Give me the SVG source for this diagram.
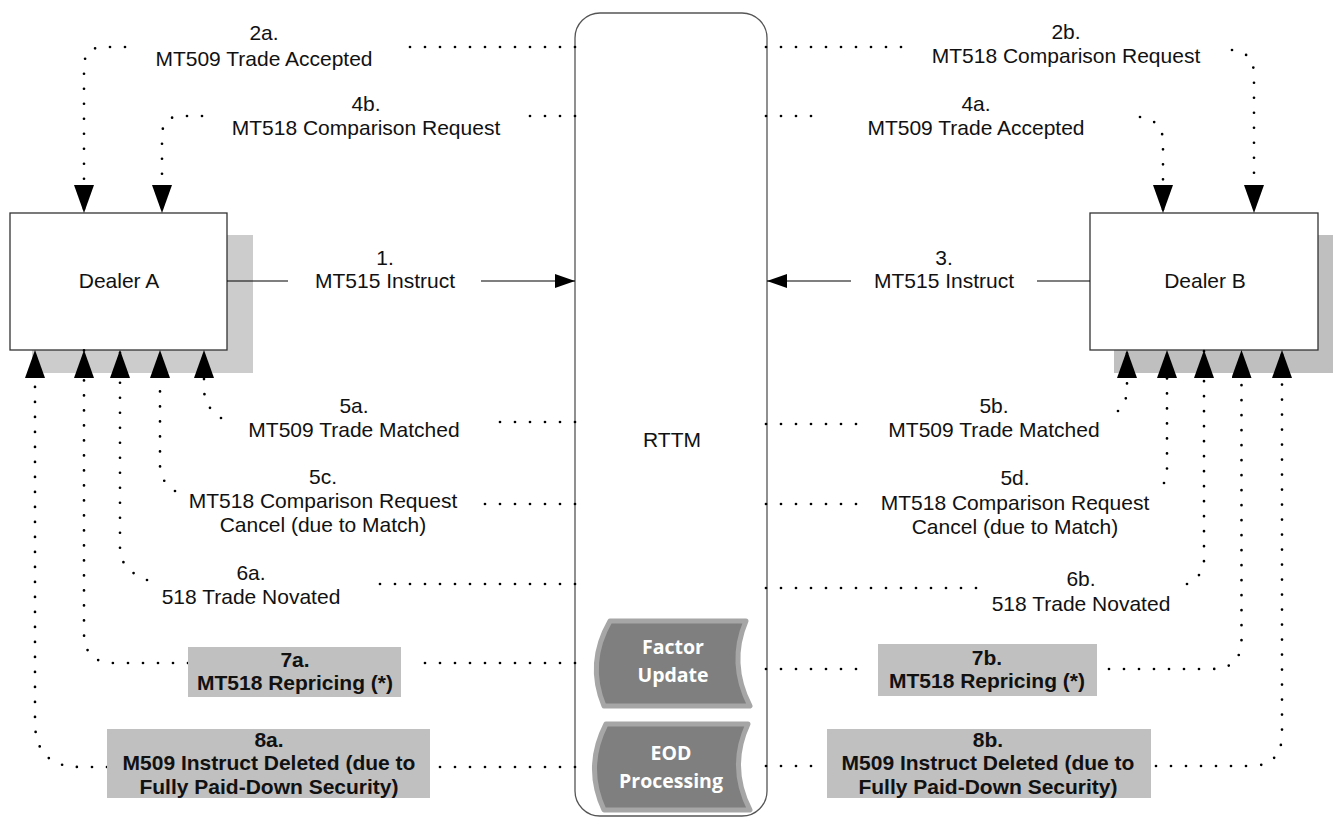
<svg xmlns="http://www.w3.org/2000/svg" width="1333" height="818" viewBox="0 0 1333 818">
<style>
  .lbl { font-family: "Liberation Sans", Arial, sans-serif; font-size: 21px; fill: #111; text-anchor: middle; }
  .bold { font-weight: bold; }
  .proc { font-family: "Open Sans", "Noto Sans", sans-serif; font-size: 19.5px; font-weight: bold; fill: #ffffff; text-anchor: middle; }
  .dot { fill: none; stroke: #000; stroke-width: 2.7; stroke-dasharray: 0 15; stroke-linecap: round; }
  .dotend { fill: none; stroke: #000; stroke-width: 2.7; stroke-dasharray: 0 15; stroke-linecap: round; marker-end: url(#bigArrow); }
  .solid { fill: none; stroke: #000; stroke-width: 1.2; }
  .solidend { fill: none; stroke: #000; stroke-width: 1.2; marker-end: url(#smallArrow); }
  .box { fill: #ffffff; stroke: #333; stroke-width: 1.3; }
  .tag { fill: #c0c0c0; }
  .shape { fill: #7f7f7f; stroke: #a6a6a6; stroke-width: 5; stroke-linejoin: round; }
</style>
<defs>
  <marker id="bigArrow" markerUnits="userSpaceOnUse" viewBox="0 -10 28 20" markerWidth="28" markerHeight="20" refX="28" refY="0" orient="auto">
    <path d="M0,-10 L28,0 L0,10 Z" fill="#000"/>
  </marker>
  <marker id="smallArrow" markerUnits="userSpaceOnUse" viewBox="0 -7 20 14" markerWidth="20" markerHeight="14" refX="20" refY="0" orient="auto">
    <path d="M0,-7 L20,0 L0,7 Z" fill="#000"/>
  </marker>
</defs>
<rect width="1333" height="818" fill="#ffffff"/>

<g id="rttm">
  <rect x="575" y="13" width="192" height="803" rx="25" ry="25" fill="#ffffff" stroke="#555" stroke-width="1.3"/>
  <text class="lbl" x="672" y="447">RTTM</text>
</g>

<g id="factor-update">
  <path class="shape" d="M610,621 L746,621 Q728,663 750,706 L604,706 Q586,663 610,621 Z"/>
  <text class="proc" x="673" y="654">Factor</text>
  <text class="proc" x="673" y="682">Update</text>
</g>

<g id="eod-processing">
  <path class="shape" d="M606,724 L748,724 Q728,767 750,810 L604,810 Q584,767 606,724 Z"/>
  <text class="proc" x="671" y="760">EOD</text>
  <text class="proc" x="671" y="788">Processing</text>
</g>

<g id="dealer-a">
  <rect x="32" y="235" width="221" height="138" fill="#cccccc"/>
  <rect class="box" x="10" y="213" width="217" height="137"/>
  <text class="lbl" x="119" y="288">Dealer A</text>
</g>

<g id="dealer-b">
  <rect x="1114" y="235" width="230" height="138" fill="#bfbfbf"/>
  <rect class="box" x="1090" y="213" width="228" height="137"/>
  <text class="lbl" x="1205" y="288">Dealer B</text>
</g>

<g id="connectors">
  <!-- 2a -->
  <path class="dot" d="M575,47 H403"/>
  <path class="dotend" d="M125,47 H104 Q84,47 84,67 V213"/>
  <!-- 4b -->
  <path class="dot" d="M575,116 H527"/>
  <path class="dotend" d="M202,116 H182 Q162,116 162,136 V213"/>
  <!-- 2b -->
  <path class="dot" d="M766,47 H910"/>
  <path class="dotend" d="M1232,50 Q1254,52 1254,75 V213"/>
  <!-- 4a -->
  <path class="dot" d="M766,116 H818"/>
  <path class="dotend" d="M1140,117 Q1163,120 1163,142 V213"/>
  <!-- 1 -->
  <path class="solid" d="M227,281 H288"/>
  <path class="solidend" d="M481,281 H575"/>
  <!-- 3 -->
  <path class="solid" d="M1090,281 H1037"/>
  <path class="solidend" d="M851,281 H767"/>
  <!-- 5a -->
  <path class="dot" d="M575,422 H495"/>
  <path class="dotend" d="M221,418 Q205,408 204,390 V350"/>
  <!-- 5c -->
  <path class="dot" d="M575,504 H473"/>
  <path class="dotend" d="M175,491 Q161,483 160,466 V350"/>
  <!-- 6a -->
  <path class="dot" d="M575,584 H368"/>
  <path class="dotend" d="M147,580 Q121,570 120,550 V350"/>
  <!-- 7a -->
  <path class="dot" d="M575,663 H411"/>
  <path class="dotend" d="M188,663 H114 Q84,663 84,633 V350"/>
  <!-- 8a -->
  <path class="dot" d="M575,767 H436"/>
  <path class="dotend" d="M107,767 H80 Q35,767 35,722 V350"/>
  <!-- 5b -->
  <path class="dot" d="M766,424 H865"/>
  <path class="dotend" d="M1118,411 Q1127,402 1127,390 V350"/>
  <!-- 5d -->
  <path class="dot" d="M766,504 H865"/>
  <path class="dotend" d="M1164,483 Q1167,478 1167,468 V350"/>
  <!-- 6b -->
  <path class="dot" d="M766,588 H979"/>
  <path class="dotend" d="M1187,584 Q1204,576 1204,560 V350"/>
  <!-- 7b -->
  <path class="dot" d="M766,669 H865"/>
  <path class="dotend" d="M1109,669 H1212 Q1241.5,669 1241.5,640 V350"/>
  <!-- 8b -->
  <path class="dot" d="M766,766 H818"/>
  <path class="dotend" d="M1156,766 H1250 Q1282,766 1282,734 V350"/>
</g>

<g id="labels">
  <text class="lbl" x="264" y="40">2a.</text>
  <text class="lbl" x="264" y="66">MT509 Trade Accepted</text>
  <text class="lbl" x="366" y="111">4b.</text>
  <text class="lbl" x="366" y="135">MT518 Comparison Request</text>
  <text class="lbl" x="1066" y="39">2b.</text>
  <text class="lbl" x="1066" y="63">MT518 Comparison Request</text>
  <text class="lbl" x="976" y="111">4a.</text>
  <text class="lbl" x="976" y="135">MT509 Trade Accepted</text>
  <text class="lbl" x="385" y="265">1.</text>
  <text class="lbl" x="385" y="288">MT515 Instruct</text>
  <text class="lbl" x="944" y="265">3.</text>
  <text class="lbl" x="944" y="288">MT515 Instruct</text>
  <text class="lbl" x="354" y="413">5a.</text>
  <text class="lbl" x="354" y="437">MT509 Trade Matched</text>
  <text class="lbl" x="994" y="413">5b.</text>
  <text class="lbl" x="994" y="437">MT509 Trade Matched</text>
  <text class="lbl" x="323" y="484">5c.</text>
  <text class="lbl" x="323" y="508">MT518 Comparison Request</text>
  <text class="lbl" x="323" y="532">Cancel (due to Match)</text>
  <text class="lbl" x="1015" y="485">5d.</text>
  <text class="lbl" x="1015" y="510">MT518 Comparison Request</text>
  <text class="lbl" x="1015" y="534">Cancel (due to Match)</text>
  <text class="lbl" x="251" y="580">6a.</text>
  <text class="lbl" x="251" y="604">518 Trade Novated</text>
  <text class="lbl" x="1081" y="586">6b.</text>
  <text class="lbl" x="1081" y="611">518 Trade Novated</text>
</g>

<g id="label-7a">
  <rect class="tag" x="188" y="647" width="213" height="50"/>
  <text class="lbl bold" x="295" y="667">7a.</text>
  <text class="lbl bold" x="295" y="690">MT518 Repricing (*)</text>
</g>
<g id="label-7b">
  <rect class="tag" x="878" y="644" width="219" height="52"/>
  <text class="lbl bold" x="987" y="665">7b.</text>
  <text class="lbl bold" x="987" y="688">MT518 Repricing (*)</text>
</g>
<g id="label-8a">
  <rect class="tag" x="107" y="729" width="323" height="69"/>
  <text class="lbl bold" x="269" y="747">8a.</text>
  <text class="lbl bold" x="269" y="770">M509 Instruct Deleted (due to</text>
  <text class="lbl bold" x="269" y="794">Fully Paid-Down Security)</text>
</g>
<g id="label-8b">
  <rect class="tag" x="827" y="729" width="324" height="69"/>
  <text class="lbl bold" x="988" y="747">8b.</text>
  <text class="lbl bold" x="988" y="770">M509 Instruct Deleted (due to</text>
  <text class="lbl bold" x="988" y="794">Fully Paid-Down Security)</text>
</g>
</svg>
